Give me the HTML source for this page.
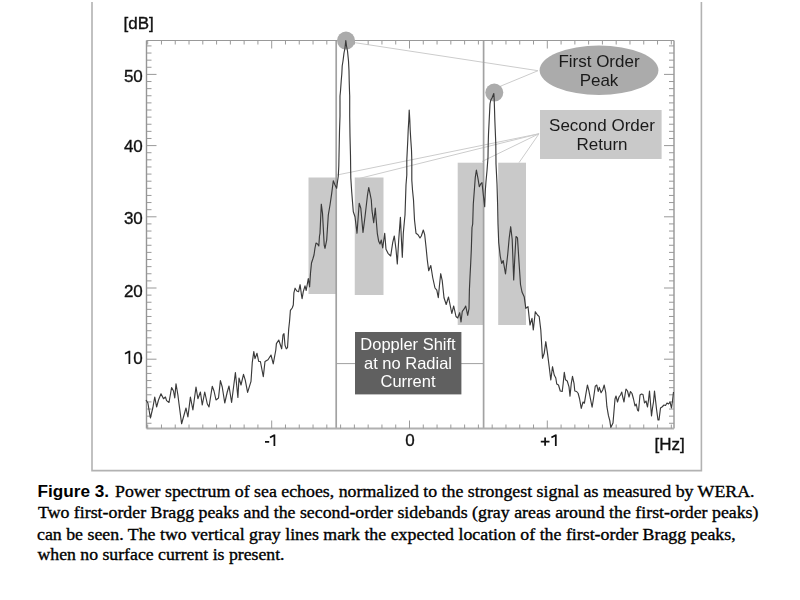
<!DOCTYPE html>
<html><head><meta charset="utf-8"><style>
html,body{margin:0;padding:0;background:#fff;width:800px;height:600px;overflow:hidden}
svg{position:absolute;left:0;top:0}
.chart{filter:blur(0.35px)}
.cap{position:absolute;left:38px;top:481px;width:760px;font-family:"Liberation Serif",serif;font-size:17px;line-height:21.3px;color:#000;white-space:nowrap}
.cap b{font-family:"Liberation Sans",sans-serif;font-weight:bold;font-size:16px}
</style></head><body>
<svg class="chart" width="800" height="600" viewBox="0 0 800 600">
<path d="M92 2V470.6H701.4V2" fill="none" stroke="#b2b2b2" stroke-width="1.6"/>
<g fill="#c9c9c9">
<rect x="308.5" y="177.5" width="28" height="116.5"/>
<rect x="354.75" y="177.5" width="28.75" height="117.5"/>
<rect x="457.7" y="162.7" width="26" height="162.3"/>
<rect x="498.2" y="162.7" width="27.8" height="162.3"/>
</g>
<g stroke="#cccccc" stroke-width="1" fill="none">
<path d="M354.4 42.6L538 70.7M538 70.7L500 86.4"/>
<path d="M539 133.75L337 175M539 133.75L355 179.5M539 133.75L482 161.5M539 133.75L519 162.7"/>
</g>
<g stroke="#a2a2a2" stroke-width="1.7"><path d="M336.2 40V428.5M483.6 40V428.5"/></g>
<path d="M336 363.6H483" stroke="#a0a0a0" stroke-width="1"/>
<g stroke="#959595" fill="none">
<path d="M146.5 40.5V428.5" stroke-width="1.4"/>
<path d="M674 40.5V428.5" stroke-width="1.4"/>
<path d="M146.5 40.5H674" stroke-width="1" stroke="#999"/>
</g>
<path d="M146.5 428.5H674" stroke="#b0b0b0" stroke-width="2.2"/>
<path d="M146.5 423.28h5M674 423.28h-5M146.5 416.16h5M674 416.16h-5M146.5 409.04h5M674 409.04h-5M146.5 401.92h5M674 401.92h-5M146.5 394.8h5M674 394.8h-5M146.5 387.68h5M674 387.68h-5M146.5 380.56h5M674 380.56h-5M146.5 373.44h5M674 373.44h-5M146.5 366.32h5M674 366.32h-5M146.5 359.2h10M674 359.2h-10M146.5 352.08h5M674 352.08h-5M146.5 344.96h5M674 344.96h-5M146.5 337.84h5M674 337.84h-5M146.5 330.72h5M674 330.72h-5M146.5 323.6h5M674 323.6h-5M146.5 316.48h5M674 316.48h-5M146.5 309.36h5M674 309.36h-5M146.5 302.24h5M674 302.24h-5M146.5 295.12h5M674 295.12h-5M146.5 288h10M674 288h-10M146.5 280.88h5M674 280.88h-5M146.5 273.76h5M674 273.76h-5M146.5 266.64h5M674 266.64h-5M146.5 259.52h5M674 259.52h-5M146.5 252.4h5M674 252.4h-5M146.5 245.28h5M674 245.28h-5M146.5 238.16h5M674 238.16h-5M146.5 231.04h5M674 231.04h-5M146.5 223.92h5M674 223.92h-5M146.5 216.8h10M674 216.8h-10M146.5 209.68h5M674 209.68h-5M146.5 202.56h5M674 202.56h-5M146.5 195.44h5M674 195.44h-5M146.5 188.32h5M674 188.32h-5M146.5 181.2h5M674 181.2h-5M146.5 174.08h5M674 174.08h-5M146.5 166.96h5M674 166.96h-5M146.5 159.84h5M674 159.84h-5M146.5 152.72h5M674 152.72h-5M146.5 145.6h10M674 145.6h-10M146.5 138.48h5M674 138.48h-5M146.5 131.36h5M674 131.36h-5M146.5 124.24h5M674 124.24h-5M146.5 117.12h5M674 117.12h-5M146.5 110h5M674 110h-5M146.5 102.88h5M674 102.88h-5M146.5 95.76h5M674 95.76h-5M146.5 88.64h5M674 88.64h-5M146.5 81.52h5M674 81.52h-5M146.5 74.4h10M674 74.4h-10M146.5 67.28h5M674 67.28h-5M146.5 60.16h5M674 60.16h-5M146.5 53.04h5M674 53.04h-5M146.5 45.92h5M674 45.92h-5" stroke="#999" stroke-width="1"/>
<path d="M147.68 40.5v4M147.68 428.5v-4M161.46 40.5v4M161.46 428.5v-4M175.24 40.5v4M175.24 428.5v-4M189.02 40.5v4M189.02 428.5v-4M202.8 40.5v4M202.8 428.5v-4M216.58 40.5v4M216.58 428.5v-4M230.36 40.5v4M230.36 428.5v-4M244.14 40.5v4M244.14 428.5v-4M257.92 40.5v4M257.92 428.5v-4M271.7 40.5v8M271.7 428.5v-8M285.48 40.5v4M285.48 428.5v-4M299.26 40.5v4M299.26 428.5v-4M313.04 40.5v4M313.04 428.5v-4M326.82 40.5v4M326.82 428.5v-4M340.6 40.5v4M340.6 428.5v-4M354.38 40.5v4M354.38 428.5v-4M368.16 40.5v4M368.16 428.5v-4M381.94 40.5v4M381.94 428.5v-4M395.72 40.5v4M395.72 428.5v-4M409.5 40.5v8M409.5 428.5v-8M423.28 40.5v4M423.28 428.5v-4M437.06 40.5v4M437.06 428.5v-4M450.84 40.5v4M450.84 428.5v-4M464.62 40.5v4M464.62 428.5v-4M478.4 40.5v4M478.4 428.5v-4M492.18 40.5v4M492.18 428.5v-4M505.96 40.5v4M505.96 428.5v-4M519.74 40.5v4M519.74 428.5v-4M533.52 40.5v4M533.52 428.5v-4M547.3 40.5v8M547.3 428.5v-8M561.08 40.5v4M561.08 428.5v-4M574.86 40.5v4M574.86 428.5v-4M588.64 40.5v4M588.64 428.5v-4M602.42 40.5v4M602.42 428.5v-4M616.2 40.5v4M616.2 428.5v-4M629.98 40.5v4M629.98 428.5v-4M643.76 40.5v4M643.76 428.5v-4M657.54 40.5v4M657.54 428.5v-4M671.32 40.5v4M671.32 428.5v-4" stroke="#9a9a9a" stroke-width="1"/>
<circle cx="346" cy="40.6" r="9" fill="#ababab"/>
<circle cx="494.3" cy="92.6" r="9" fill="#ababab"/>
<polyline points="146,400 147.9,403 150.4,418 152.9,407.5 154.75,397 156.6,407 158.5,400 161,393.75 163.5,398.75 165.4,397 166.6,400.6 169,402.5 171.6,387.5 173.5,391 174.75,398 176,383.75 177.9,395 179,403.75 181.6,423.75 186,408 187.9,417 190.4,397 192.9,410 196,387 197.9,398.75 200.4,392 202.25,405 204.75,392 207.25,403.75 209,407 212.25,386.25 214,391 216,400 218.5,398 220.4,380.6 222.25,387 224.75,403 227.25,392 229,386 231.6,402.5 235.4,372.5 237.9,397.5 239,378 241,385 243.5,374.4 245.25,380.2 247.6,392.4 251,381.3 252.25,362.7 253.8,351.6 255,358.6 257,353.3 258.7,361.5 260.4,361.5 263.3,376.7 265,361.5 268,359.75 271,355 273.25,363.8 275.8,350 276.4,343.6 278.75,340 280.5,345.3 281.7,348.8 283,334.8 284,333.7 285,345.3 286.3,348.8 287.5,347.7 288.7,329 289.6,320.8 290.4,310.3 292.2,308 293.3,305 293.9,292.8 295.1,288.2 296.8,291 298.6,291.7 300.1,284.7 301.5,295.2 302.1,298.7 303.3,291.7 305,285.8 306.2,290.5 308.3,278.5 309.6,287 310.5,273 311.5,263 312.8,259 314,255 315,248 316,243 317.5,244 318.8,246 319.5,236 320,233.3 321.3,204.2 322.5,213.3 324.2,245 325,248.3 326.7,240 328.3,215 330,205 331.7,193.3 333.3,180.8 335,185 336.7,188.3 337.5,181.7 338.3,176 338.8,166 339,156 339.2,146 339.5,131 340,116 340,96 340.5,91 341.2,81 341.8,74 342.2,66 343,61 344,53 345,48 345.8,40.5 346.5,46 347.5,51 348.5,61 349,71 349.2,81 349.5,91 349.7,96 349.7,116 350,136 350.5,156 350.7,171.3 350.8,178 351.7,191.7 353.3,211.7 355,216.7 357,233.3 359.2,203.3 360.8,208.3 363,232.5 365,216.7 367.5,195 368.7,187.5 370,193.3 371.3,200 372,210.7 373.7,222.7 375.3,208 376,217.3 377.3,233.3 378.7,241.3 380,244 381.3,240 382.7,248 384.7,233.3 386,249.3 388,253.3 390.7,256 392.7,242.7 394.3,236 396,249.3 397.3,264 398.7,240 400.4,217.3 401.3,237.3 402.3,257.3 403.3,233.3 404.5,220 405,215 405.5,200 406,185 406.8,175 406.8,160 407.3,150 407.8,140 408.2,130 408.8,120 409.2,110 409.8,120 410.2,130 410.8,140 411.5,150 411.8,160 411.8,180 412.5,190 413.5,200 414,210 414.5,220 416,233.3 418,234.7 420,238 421.3,236 423.3,230 424.7,234.7 426,246.7 427.3,260 428.7,270.7 430.8,265.5 432.7,277.5 435,288 436.8,290.2 438.3,297.7 439.5,285 440.7,273.7 442.2,280.5 444,297.7 446.2,304.5 448.5,297 450,304.5 451.8,313.5 453.7,306 456,316.5 457.7,318 459.7,312.7 461,322 462.3,311.3 464.3,308.7 465.7,306 467.7,315.3 469,308.7 469.4,290 470,276.7 470.7,263.3 471.3,250 472,227.5 472.7,224 473.3,204 474.3,190.7 475.3,177.3 476.4,170 478,178.7 479.3,186.7 480.7,184 482,182.7 483.3,194.7 484.7,206.7 485.3,190.7 486,181.3 487,170.7 488,157.3 488.2,144 488.5,134 489,124 489.5,114 490,104 490.8,100 492,98 493.8,93.5 494.2,99 494.5,109 494.8,119 495.2,129 495.8,144 496,164 497,184 497.6,204 498,224 498.7,242.5 500.2,256 501.7,263.5 503.2,260.5 505.5,274 507.7,254.5 509.2,238 510.7,226.7 512.2,239.5 513.7,280 514.8,257.5 516,236.5 517.5,238 519,262 520.5,284.5 522,292 524.2,296.7 525.8,308.3 528,306.7 530,325 532,318.3 533.3,330 535.3,311.7 537.5,315 539.2,316.7 540.8,330 542.5,358.3 544.2,353.3 545.8,341.7 547.5,353.3 549.2,366.7 550.8,380 552.5,366.7 554.2,375 555.8,378 556.75,384 558.5,385 560.25,391 562.2,391.5 563.2,383.3 564.3,372.25 565.5,379.8 567.25,381 569,386.8 570,396.2 571.3,383.3 572.5,376.3 574,383.3 574.8,391 576.6,391.5 578.1,393.25 579.5,398.5 581.25,408.4 583,402 584.4,403.2 585.9,393.8 587.4,385 588.8,390.3 590.6,399.7 592.1,407.25 593.5,398.5 595.25,386.25 596.8,385 598.2,391.5 599.3,387.4 601.1,392.7 602.8,389.75 604.2,385 605.75,392.7 606.9,406.7 608.4,415.4 609.8,420.7 610.8,427.5 613,423 614,411 615,399 616,396 617.5,402 619,397 620.5,395 621.8,392 622.5,396 624,402 625,395 626,389 627.5,391 629,397 630.5,391.5 632,393.5 633.5,399 635,406 636.2,404 637.5,410 638.5,411 640,395 641.5,394 643,394.5 644.5,403 646,401 647.5,407 648.5,400 649.5,391 650.5,403 651.5,416 652.5,408 653.5,402 654.5,391 655.5,400 656.5,409 658,420 659,420 660.5,408 662,407 664,405 665.5,405.5 667,403 668.5,404 670,402 671.5,408 672.5,401 673.5,392" fill="none" stroke="#3a3a3a" stroke-width="1.15" stroke-linejoin="round"/>
<ellipse cx="599" cy="70.3" rx="59.4" ry="24.7" fill="#ababab"/>
<rect x="540" y="110" width="121.6" height="49" fill="#c9c9c9"/>
<rect x="355" y="332" width="106.4" height="62.4" fill="#606060"/>
<g font-family="Liberation Sans, sans-serif" font-size="17" fill="#111" stroke="#111" stroke-width="0.35">
<text x="142.8" y="296.7" text-anchor="end">20</text>
<text x="142.8" y="224.2" text-anchor="end">30</text>
<text x="142.8" y="152.2" text-anchor="end">40</text>
<text x="142.8" y="82.2" text-anchor="end">50</text>
<text x="142.8" y="364.2" text-anchor="end">0</text>
<text x="123.5" y="29">[dB]</text>
<text x="410" y="446" text-anchor="middle">0</text>
<text x="654.5" y="450">[Hz]</text>
</g>
<path d="M129.4 350.8V363.9M125 353.8L129.6 351.3M274.4 434.4V446M270 437.4L274.6 434.9M555.8 434.4V446M551.4 437.4L556 434.9M265 441.9H269.2M540.8 441.7H549.5M545.1 437.6V445.8" stroke="#111" stroke-width="1.75" fill="none"/>
<g font-family="Liberation Sans, sans-serif" font-size="17" fill="#1a1a1a">
<text x="599" y="66.6" text-anchor="middle">First Order</text>
<text x="599" y="85.6" text-anchor="middle">Peak</text>
<text x="602" y="131" text-anchor="middle">Second Order</text>
<text x="602" y="149.6" text-anchor="middle">Return</text>
</g>
<g font-family="Liberation Sans, sans-serif" font-size="16.5" fill="#fff" text-anchor="middle">
<text x="408" y="350">Doppler Shift</text>
<text x="408" y="368.5">at no Radial</text>
<text x="408" y="387">Current</text>
</g>
</svg>
<svg width="800" height="600" viewBox="0 0 800 600">
<g font-family="Liberation Serif, serif" font-size="17" fill="#000" stroke="#000" stroke-width="0.35">
<text x="37.5" y="496.8" font-family="Liberation Sans, sans-serif" font-weight="bold" font-size="16" stroke="none" textLength="71.5" lengthAdjust="spacingAndGlyphs">Figure 3.</text>
<text x="115" y="496.8" textLength="639.5" lengthAdjust="spacingAndGlyphs">Power spectrum of sea echoes, normalized to the strongest signal as measured by WERA.</text>
<text x="38" y="518.3" textLength="720.5" lengthAdjust="spacingAndGlyphs">Two first-order Bragg peaks and the second-order sidebands (gray areas around the first-order peaks)</text>
<text x="37" y="539.7" textLength="698.7" lengthAdjust="spacingAndGlyphs">can be seen. The two vertical gray lines mark the expected location of the first-order Bragg peaks,</text>
<text x="37.5" y="560.3" textLength="247" lengthAdjust="spacingAndGlyphs">when no surface current is present.</text>
</g>
</svg>

</body></html>
